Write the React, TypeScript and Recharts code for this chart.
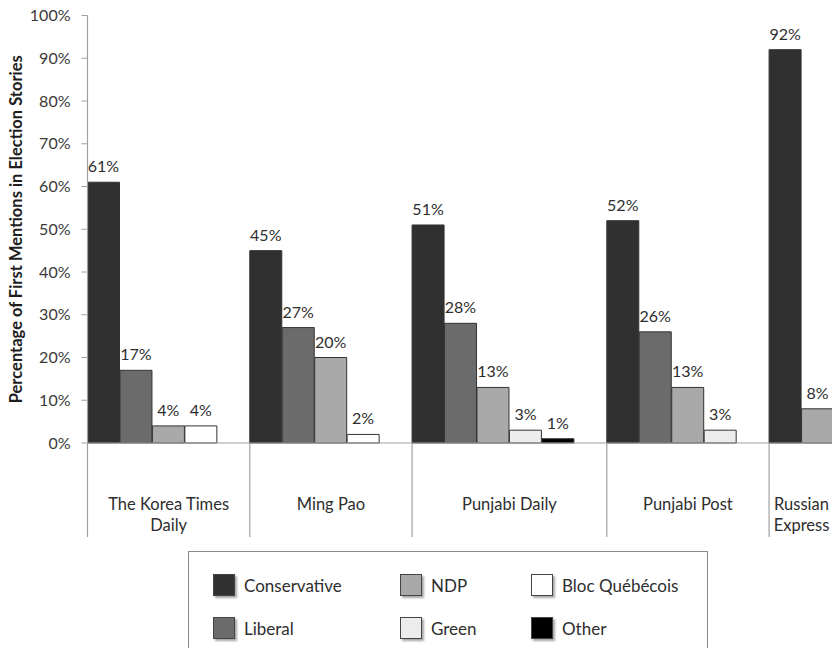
import { BarChart, Bar, XAxis, YAxis, Cell, LabelList, Text } from "recharts";

const papers = ["The Korea Times Daily", "Ming Pao", "Punjabi Daily", "Punjabi Post", "Russian Express"];
const parties = ["Conservative", "Liberal", "NDP", "Green", "Bloc Québécois", "Other"];
const partyColors = ["#303030", "#6b6b6b", "#a9a9a9", "#ececec", "#ffffff", "#000000"];

// % of first mentions, one value per paper (null = party not mentioned)
const conservative = [61, 45, 51, 52, 92];
const liberal = [17, 27, 28, 26, null];
const ndp = [4, 20, 13, 13, 8];
const green = [null, null, 3, 3, null];
const bloc = [4, 2, null, null, null];
const other = [null, null, 1, null, null];

const yTicks = [0, 10, 20, 30, 40, 50, 60, 70, 80, 90, 100];

const series = [conservative, liberal, ndp, green, bloc, other];

// one row per bar, bars of a paper packed together, an empty slot between papers
type Row = { slot: string; paper: string; party: number; value: number | null; first: boolean; size: number };
const rows: Row[] = [];
papers.forEach((paper, pi) => {
  const bars = series
    .map((vals, k) => ({ k, v: vals[pi] }))
    .filter((b) => b.v != null);
  const last = pi === papers.length - 1;
  bars.forEach((b, j) => {
    rows.push({ slot: `${pi}-${j}`, paper, party: b.k, value: b.v, first: j === 0, size: bars.length + (last ? 0 : 1) });
  });
  if (!last) rows.push({ slot: `${pi}-gap`, paper, party: -1, value: null, first: false, size: 0 });
});

const W = 834;
const H = 648;
const margin = { top: 15.5, right: 0, bottom: 105, left: 11.5 };
const yAxisW = 76;
const band = (W - margin.left - margin.right - yAxisW) / rows.length;

const textColor = "#2e2e2e";
const axisColor = "#a0a0a0";

function GroupTick(props: any) {
  const { x, y, payload } = props;
  const row = rows[payload.index];
  if (!row || !row.first) return <g />;
  const left = x - band / 2;
  const cx = left + (row.size * band) / 2;
  return (
    <g>
      <line x1={left} x2={left} y1={y} y2={y + 94} stroke={axisColor} strokeWidth={1.2} />
      <Text
        x={cx}
        y={y + 55}
        width={row.size * band - 20}
        textAnchor="middle"
        verticalAnchor="start"
        lineHeight={21}
        fontSize={16.5}
        fill={textColor}
      >
        {row.paper}
      </Text>
    </g>
  );
}

const legendCols = [24, 211, 342];
const legendRows = [33, 76];

export default function App() {
  return (
    <div
      style={{
        position: "fixed",
        left: 0,
        top: 0,
        width: 832,
        height: 648,
        overflow: "hidden",
        background: "#fff",
        fontFamily: "Lato, sans-serif",
      }}
    >
      <BarChart width={W} height={H} data={rows} margin={margin} barCategoryGap={0} barGap={0}>
        <XAxis
          dataKey="slot"
          interval={0}
          tickSize={0}
          tickMargin={0}
          height={100}
          axisLine={{ stroke: axisColor, strokeWidth: 1.2 }}
          tick={<GroupTick />}
        />
        <YAxis
          width={yAxisW}
          domain={[0, 100]}
          ticks={yTicks}
          interval={0}
          tickFormatter={(v) => `${v}%`}
          tickSize={6}
          tickMargin={11}
          tick={{ fontSize: 16, fill: "#3a3a3a" }}
          tickLine={{ stroke: axisColor }}
          axisLine={{ stroke: axisColor, strokeWidth: 1.2 }}
          label={{
            value: "Percentage of First Mentions in Election Stories",
            angle: -90,
            position: "insideLeft",
            style: { textAnchor: "middle", fontWeight: 700, fontSize: 16.5, fill: "#1e1e1e" },
          }}
        />
        <Bar dataKey="value" isAnimationActive={false} stroke="#333" strokeWidth={1}>
          {rows.map((r) => (
            <Cell key={r.slot} fill={r.party >= 0 ? partyColors[r.party] : "none"} />
          ))}
          <LabelList
            dataKey="value"
            position="top"
            offset={10}
            formatter={(v: any) => (v == null ? "" : `${v}%`)}
            style={{ fontSize: 16, fill: textColor }}
          />
        </Bar>
      </BarChart>

      <div
        style={{
          position: "absolute",
          left: 188,
          top: 551,
          width: 520,
          height: 120,
          border: "1.5px solid #8a8a8a",
          boxSizing: "border-box",
        }}
      >
        {parties.map((p, i) => (
          <div
            key={p}
            style={{
              position: "absolute",
              left: legendCols[Math.floor(i / 2)],
              top: legendRows[i % 2] - 12,
              height: 24,
              display: "flex",
              alignItems: "center",
              fontSize: 17,
              color: textColor,
              whiteSpace: "nowrap",
            }}
          >
            <span
              style={{
                display: "inline-block",
                width: 22,
                height: 22,
                background: partyColors[i],
                border: "1px solid #444",
                boxShadow: "1.5px 1.5px 2px rgba(0,0,0,0.35)",
                marginRight: 9,
                boxSizing: "border-box",
              }}
            />
            {p}
          </div>
        ))}
      </div>
    </div>
  );
}
